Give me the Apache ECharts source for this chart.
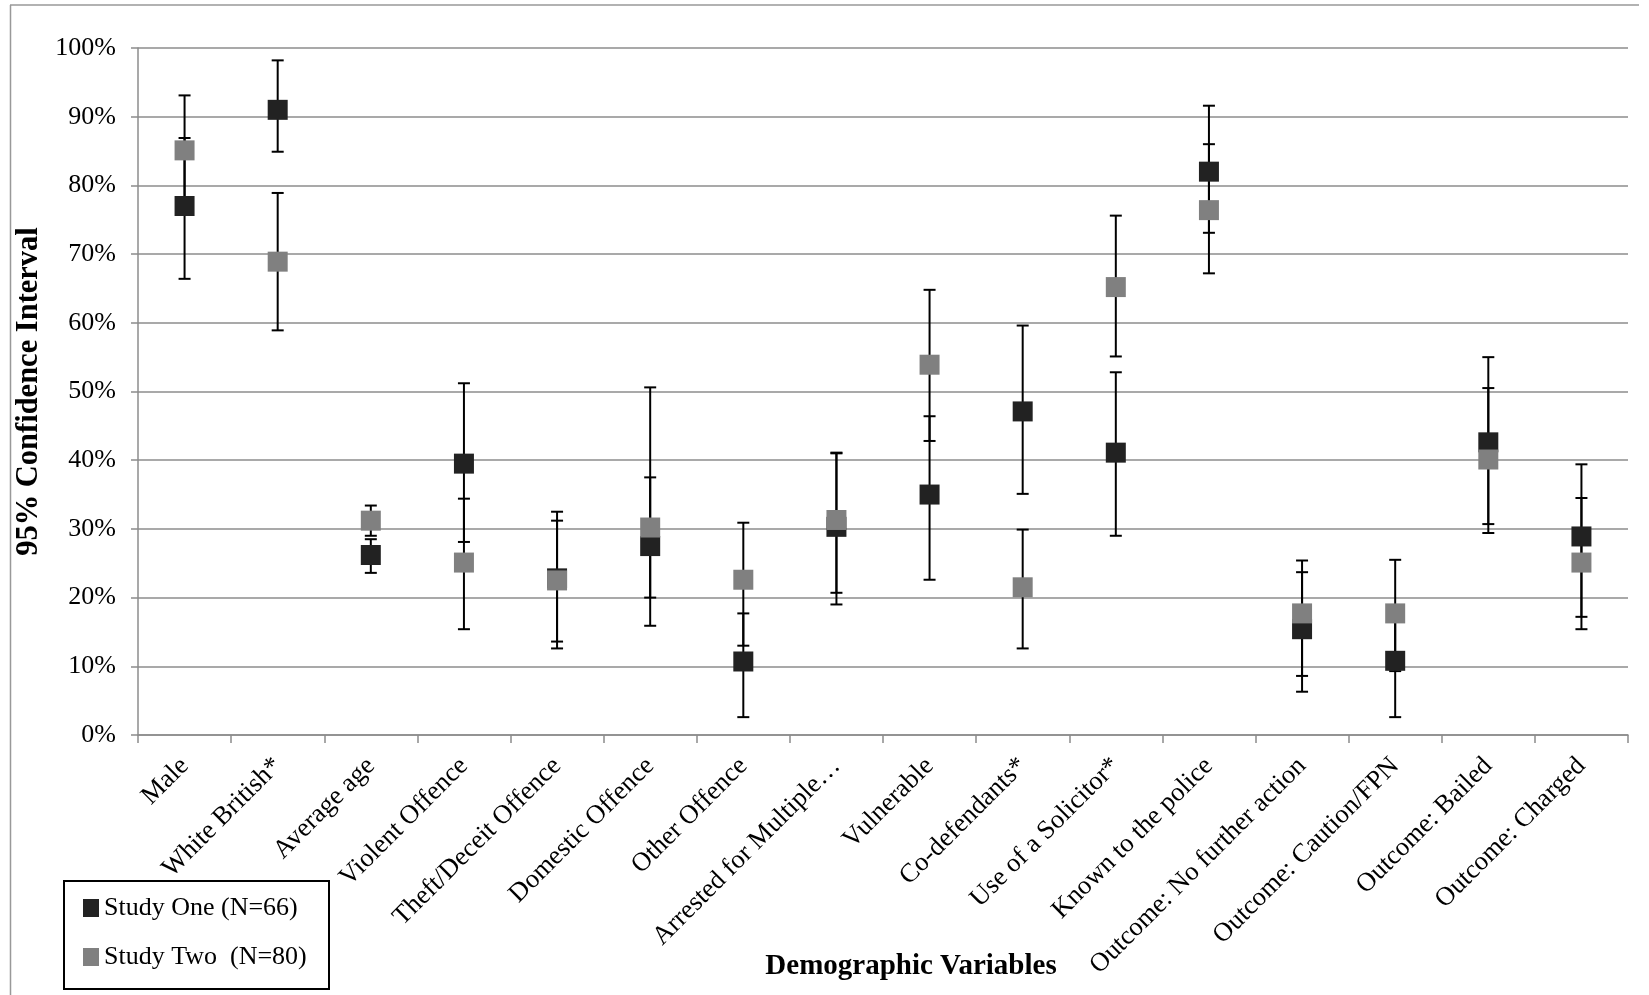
<!DOCTYPE html>
<html lang="en">
<head>
  <meta charset="UTF-8">
  <title>95% Confidence Interval</title>
  <script src="https://cdn.jsdelivr.net/npm/echarts@6/dist/echarts.min.js"></script>
  <style>
    html, body { margin: 0; padding: 0; background: #fff; }
  </style>
</head>
<body>
<div id="main" style="width:1649px;height:995px"></div>
<script>
  var categories = ['Male', 'White British*', 'Average age', 'Violent Offence', 'Theft/Deceit Offence',
    'Domestic Offence', 'Other Offence', 'Arrested for Multiple\u2026', 'Vulnerable', 'Co-defendants*',
    'Use of a Solicitor*', 'Known to the police', 'Outcome: No further action', 'Outcome: Caution/FPN',
    'Outcome: Bailed', 'Outcome: Charged'];

  var studyOne = [77, 91, 26.2, 39.5, 22.8, 27.5, 10.7, 30.3, 35, 47.1, 41.1, 82, 15.4, 10.8, 42.6, 28.9];
  var oneLow   = [66.4, 84.9, 23.6, 28.1, 12.6, 20, 2.6, 19, 22.6, 35.1, 29.0, 73.1, 6.3, 2.6, 30.7, 17.2];
  var oneHigh  = [86.9, 98.2, 28.5, 51.2, 32.5, 37.5, 17.7, 41.1, 46.4, 59.6, 52.8, 91.6, 23.7, 17.7, 55.0, 39.4];

  var studyTwo = [85.1, 68.9, 31.2, 25.1, 22.5, 30.2, 22.6, 31.3, 53.9, 21.5, 65.2, 76.4, 17.7, 17.7, 40.1, 25.1];
  var twoLow   = [76.9, 58.9, 29.0, 15.4, 13.6, 15.9, 13.0, 20.7, 42.8, 12.6, 55.1, 67.2, 8.6, 9.3, 29.4, 15.4];
  var twoHigh  = [93.1, 78.9, 33.4, 34.4, 31.2, 50.6, 30.9, 41.0, 64.8, 29.9, 75.6, 86.0, 25.4, 25.5, 50.5, 34.5];

  var serif = '"Liberation Serif", "Times New Roman", serif';
  var gridGray = '#8c8c8c';

  var bars = [];
  for (var i = 0; i < categories.length; i++) {
    bars.push([i, oneLow[i], oneHigh[i]]);
    bars.push([i, twoLow[i], twoHigh[i]]);
  }

  function errorBar(params, api) {
    var lo = api.coord([api.value(0), api.value(1)]);
    var hi = api.coord([api.value(0), api.value(2)]);
    var w = 6;
    var style = { stroke: '#000', lineWidth: 2 };
    return {
      type: 'group',
      children: [
        { type: 'line', shape: { x1: lo[0], y1: lo[1], x2: hi[0], y2: hi[1] }, style: style },
        { type: 'line', shape: { x1: lo[0] - w, y1: lo[1], x2: lo[0] + w, y2: lo[1] }, style: style },
        { type: 'line', shape: { x1: hi[0] - w, y1: hi[1], x2: hi[0] + w, y2: hi[1] }, style: style }
      ]
    };
  }

  var chart = echarts.init(document.querySelector('#main'));
  chart.setOption({
    animation: false,
    backgroundColor: '#fff',
    grid: { left: 138, right: 21, top: 48, bottom: 260, containLabel: false, outerBoundsMode: 'none' },
    legend: {
      orient: 'vertical',
      left: 78, top: 890,
      icon: 'rect',
      itemWidth: 16, itemHeight: 18, itemGap: 23,
      textStyle: { fontFamily: serif, fontSize: 26, color: '#000', lineHeight: 26 },
      data: ['Study One (N=66)', 'Study Two  (N=80)']
    },
    xAxis: {
      type: 'category',
      data: categories,
      axisLine: { lineStyle: { color: gridGray, width: 1.5 } },
      axisTick: { show: true, length: 8, lineStyle: { color: gridGray, width: 1.5 } },
      axisLabel: { interval: 0, rotate: 45, margin: 27, fontFamily: serif, fontSize: 26.5, color: '#000' },
      splitLine: { show: false }
    },
    yAxis: {
      type: 'value',
      min: 0, max: 100, interval: 10,
      name: '95% Confidence Interval',
      nameLocation: 'middle',
      nameRotate: 90,
      nameGap: 90,
      nameTextStyle: { fontFamily: serif, fontSize: 30.5, fontWeight: 'bold', color: '#000' },
      axisLine: { show: true, lineStyle: { color: gridGray, width: 1.5 } },
      axisTick: { show: true, length: 7, lineStyle: { color: gridGray, width: 1.5 } },
      axisLabel: { margin: 22, fontFamily: serif, fontSize: 26, color: '#000', formatter: '{value}%' },
      splitLine: { lineStyle: { color: gridGray, width: 1.5 } }
    },
    graphic: [
      { type: 'line', shape: { x1: 10, y1: 5, x2: 1639, y2: 5 }, style: { stroke: '#999', lineWidth: 1.5 } },
      { type: 'line', shape: { x1: 10.5, y1: 5, x2: 10.5, y2: 995 }, style: { stroke: '#999', lineWidth: 1.5 } },
      { type: 'rect', shape: { x: 64, y: 881, width: 265, height: 108 }, style: { fill: 'none', stroke: '#000', lineWidth: 2 } },
      {
        type: 'text', x: 911, y: 967,
        style: { text: 'Demographic Variables', fontFamily: serif, fontSize: 29, fontWeight: 'bold',
          fill: '#000', align: 'center', verticalAlign: 'middle' }
      }
    ],
    series: [
      {
        type: 'custom',
        name: 'errors',
        renderItem: errorBar,
        data: bars,
        encode: { x: 0, y: [1, 2] },
        z: 1,
        silent: true
      },
      {
        type: 'scatter',
        name: 'Study One (N=66)',
        data: studyOne,
        symbol: 'rect',
        symbolSize: 20,
        itemStyle: { color: '#222222', opacity: 1 },
        z: 2
      },
      {
        type: 'scatter',
        name: 'Study Two  (N=80)',
        data: studyTwo,
        symbol: 'rect',
        symbolSize: 20,
        itemStyle: { color: '#808080', opacity: 1 },
        z: 3
      }
    ]
  });
</script>
</body>
</html>
